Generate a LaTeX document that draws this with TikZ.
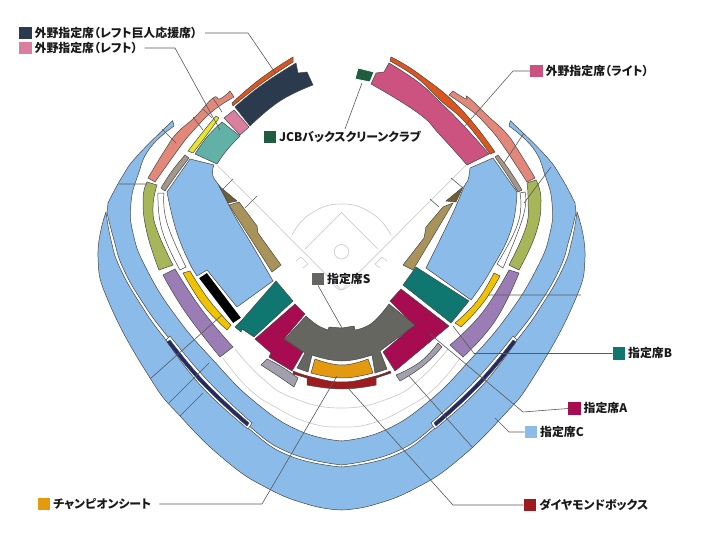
\documentclass[tikz,border=0pt]{standalone}
\usepackage{fontspec}
\setmainfont{Noto Sans CJK JP}[RawFeature=+palt]
\usetikzlibrary{positioning}
\definecolor{seatC}{HTML}{8ABBE9}
\definecolor{seatB}{HTML}{107670}
\definecolor{seatA}{HTML}{A80C50}
\definecolor{seatS}{HTML}{666660}
\definecolor{champion}{HTML}{E39A0E}
\definecolor{diamondbox}{HTML}{9E1B20}
\definecolor{giants}{HTML}{2B3A4C}
\definecolor{leftpink}{HTML}{DB7FA1}
\definecolor{rightpink}{HTML}{CC5380}
\definecolor{jcbclub}{HTML}{1F5C40}
\definecolor{salmon}{HTML}{E2887B}
\definecolor{rust}{HTML}{D9561F}
\definecolor{mint}{HTML}{62B1A7}
\definecolor{lemon}{HTML}{E6E62E}
\definecolor{taupe}{HTML}{A39889}
\definecolor{olive}{HTML}{A8B65A}
\definecolor{lilac}{HTML}{9A7DB5}
\definecolor{gold}{HTML}{F0C300}
\definecolor{sand}{HTML}{A8935A}
\definecolor{bark}{HTML}{6E5F35}
\definecolor{steel}{HTML}{A3A0AD}
\definecolor{navybar}{HTML}{1F2A66}
\newcommand{\seat}[3]{\filldraw[seatline,fill=#1] plot[rnd] coordinates {#2} -- plot[rnd] coordinates {#3} -- cycle;}
\begin{document}
\begin{tikzpicture}[x=1pt,y=-1pt,
	rnd/.style={smooth,tension=0.8},
	seatline/.style={draw=black!72,line width=0.5pt},
	fieldline/.style={draw=black!20,line width=0.7pt},
	leader/.style={draw=black!65,line width=0.6pt},
	swatch/.style={inner sep=0pt,minimum size=12.5pt},
	lab/.style={inner sep=0pt,text=black!90,font=\bfseries\fontsize{11.9}{12}\selectfont},
	node distance=2.5pt]
	\useasboundingbox (0,0) rectangle (702,538);
	% field
	\draw[fieldline] (217,165) -- (341.5,290) -- (466,165);
	\draw[fieldline] plot[rnd] coordinates {(292,235) (310,214) (341.5,204) (373,214) (391,235)};
	\draw[fieldline] (305,249) -- (341.5,212.7) -- (378,249);
	\draw[fieldline] (341.5,251.7) circle (7.3);
	\draw[fieldline] (296,261) -- (301,257) -- (308,264) -- (303,268);
	\draw[fieldline] (387,261) -- (382,257) -- (375,264) -- (380,268);
	\draw[fieldline] plot[rnd] coordinates {(334,285) (341,290) (350,285)};
	\draw[fieldline] plot[rnd] coordinates {(235,349) (262,378) (293,398) (341.5,408) (390,398) (421,378) (448,349)};
	\draw[fieldline] plot[rnd] coordinates {(223,358) (248,388) (277,408) (310,423) (341.5,427) (373,423) (406,408) (435,388) (460,358)};
	% both wings of the blue rings
	\foreach \s/\o in {1/0,-1/683}{
		\begin{scope}[xshift=\o pt,xscale=\s]
			\fill[seatC] plot[rnd] coordinates {(342,510) (310,505) (267,488) (225,460) (180,416) (150,378) (110,305) (98,257) (106,212)} -- plot[rnd] coordinates {(106,212) (111,240) (120,268) (141,305) (166,340) (205,386) (248,428) (290,456) (342,467)} -- cycle;
			\draw[seatline] plot[rnd] coordinates {(342,510) (310,505) (267,488) (225,460) (180,416) (150,378) (110,305) (98,257) (106,212)} -- plot[rnd] coordinates {(106,212) (111,240) (120,268) (141,305) (166,340) (205,386) (248,428) (290,456) (342,467)};
			\fill[seatC] plot[rnd] coordinates {(342,465) (290,453) (248,425) (207,383) (168,337) (143,303) (123,268) (114,240) (107,213)} -- plot[rnd] coordinates {(108,203) (122,177) (138,155) (172.7,120.7)} -- plot[rnd] coordinates {(174,126) (150,148) (138,175) (131,203) (133,233) (146,268) (175,315) (213,360) (255,402) (300,431) (342,441)} -- cycle;
			\draw[seatline] plot[rnd] coordinates {(342,465) (290,453) (248,425) (207,383) (168,337) (143,303) (123,268) (114,240) (107,213)} -- plot[rnd] coordinates {(108,203) (122,177) (138,155) (172.7,120.7)} -- plot[rnd] coordinates {(174,126) (150,148) (138,175) (131,203) (133,233) (146,268) (175,315) (213,360) (255,402) (300,431) (342,441)};
			\seat{white}{(170,336) (208,381) (252,423)}{(248,429) (202,387) (166,340)}
			\seat{navybar}{(170,340) (205,382) (249,423)}{(247,426) (203,385) (167,342)}
		\end{scope}
	}
	% left side
	\seat{salmon}{(234,97) (218,107) (204,119) (192,132) (180,147) (155,182)}{(148,178) (165,150) (177,133) (195,117) (213,98) (220,99) (230,91)}
	\seat{rust}{(232,103) (260,79) (293,57)}{(293,62) (262,83) (233,106)}
	\filldraw[seatline,fill=giants] plot[rnd] coordinates {(235,107) (262,85) (296,63)} -- (298,73) -- (307,72) -- plot[rnd] coordinates {(313,85) (280,101) (250,126)} -- cycle;
	\filldraw[seatline,fill=leftpink] (224,118) -- (234,110) -- (249,127) -- (240,135) -- cycle;
	\filldraw[seatline,fill=mint] (222,122) -- (240,136) -- plot[rnd] coordinates {(240,136) (227,150) (217,164)} -- (195,154) -- plot[rnd] coordinates {(195,154) (207,137) (222,122)} -- cycle;
	\seat{lemon}{(216,116) (202,133) (188,151)}{(193,153) (206,136) (219,118)}
	\seat{taupe}{(185,155) (172,171) (161,188)}{(165,191) (177,174) (189,158)}
	\seat{olive}{(147,182) (143,200) (147,233) (159,270)}{(173,265) (157,230) (153,207) (157,185)}
	\seat{white}{(158,193) (162,230) (180,270)}{(186,267) (167,223) (164,193)}
	\filldraw[seatline,fill=seatC] plot[rnd] coordinates {(214,165) (213,176) (222,190) (233,213) (255,250) (273,281)} -- (237,307) -- (207,270) -- (197,276) -- plot[rnd] coordinates {(192,268) (177,233) (167,192)} -- (190,159) -- cycle;
	\filldraw[seatline,fill=sand] (229,205) -- (239,202) -- (257,226) -- (258,233) -- (281,265) -- (272,272) -- (247,233) -- cycle;
	\filldraw[seatline,fill=bark] (219,186) -- (237,201) -- (228,203) -- cycle;
	\seat{lilac}{(163,275) (186,313) (220,357)}{(233,347) (202,310) (175,269)}
	\seat{gold}{(183,273) (203,305) (227,330)}{(231,325) (209,300) (190,271)}
	\filldraw[draw=white,line width=1.3pt,fill=black] (198,278) -- (207,272) -- (242,318) -- (233,324) -- cycle;
	\filldraw[seatline,fill=seatB] (276,281) -- (293,301) -- (254,337) -- (242,329) -- (241,332) -- (235,327) -- (242,320) -- cycle;
	\filldraw[seatline,fill=seatA] (295,304) -- (305,314) -- (284,339) -- (303,352) -- (292,371) -- (269,357) -- (271,353) -- (255,339) -- cycle;
	\seat{steel}{(261,365) (278,376) (294,387)}{(298,378) (282,367) (267,359)}
	% right side
	\seat{salmon}{(449,95) (465,106) (480,118) (492,131) (504,147) (527,182)}{(535,178) (518,150) (506,133) (488,116) (468,97) (466,99) (453,91)}
	\seat{rust}{(391,57) (419,74) (460,108) (495,152)}{(490,154) (465,122) (440,100) (417,78) (390,61)}
	\filldraw[seatline,fill=rightpink] plot[rnd] coordinates {(389,63) (418,82) (440,102) (463,125) (489,154)} -- plot[rnd] coordinates {(467,165) (440,135) (418,113) (371,84)} -- (376,73) -- (384,72) -- cycle;
	\filldraw[draw=white,line width=0.8pt,fill=jcbclub] (358,68) -- (374,72) -- (370,82) -- (355,79) -- cycle;
	\seat{taupe}{(495,157) (506,173) (518,192)}{(522,190) (510,171) (498,155)}
	\seat{olive}{(527,183) (528,200) (526,227) (509,265)}{(519,270) (536,233) (541,200) (536,180)}
	\seat{white}{(520,193) (518,223) (497,264)}{(503,268) (523,217) (525,192)}
	\filldraw[seatline,fill=seatC] plot[rnd] coordinates {(470,168) (468,180) (464,187) (451,217) (426,268)} -- plot[rnd] coordinates {(471,300) (491,270) (511,230) (517,192)} -- (493,158) -- cycle;
	\filldraw[seatline,fill=sand] (453,203) -- (443,207) -- (426,227) -- (424,238) -- (403,265) -- (413,270) -- (431,240) -- cycle;
	\filldraw[seatline,fill=bark] (463,187) -- (446,201) -- (456,202) -- cycle;
	\seat{lilac}{(509,270) (482,313) (450,345)}{(463,357) (495,321) (519,273)}
	\seat{gold}{(494,273) (477,301) (455,323)}{(461,327) (483,303) (500,276)}
	\filldraw[seatline,fill=seatB] (416,267) -- (469,301) -- (451,323) -- (403,285) -- cycle;
	\filldraw[seatline,fill=seatA] (401,289) -- (449,326) -- (395,371) -- (383,352) -- (414,325) -- (390,301) -- cycle;
	\seat{steel}{(396,375) (420,362) (438,343)}{(442,347) (423,366) (400,381)}
	% home plate side
	\filldraw[seatline,fill=seatS] plot[rnd] coordinates {(306,316) (317,325) (328,330)} -- (329,327) -- (342,328) -- (354,326) -- plot[rnd] coordinates {(355,330) (372,323) (389,304)} -- (415,325) -- (380,351) -- (387,369) -- (375,373) -- plot[rnd] coordinates {(372,355) (342,361) (312,355)} -- (308,372) -- (297,368) -- (305,353) -- (285,339) -- cycle;
	\seat{champion}{(315,359) (342,365) (368,359)}{(373,373) (342,378) (311,373)}
	\filldraw[seatline,fill=diamondbox] plot[rnd] coordinates {(293,371) (312,377) (342,382) (372,377) (390,371)} -- (391,373) -- (376,378) -- plot[rnd] coordinates {(376,385) (342,389) (307,385)} -- (307,378) -- (293,374) -- cycle;
	% swatches and labels
	\node[swatch,fill=giants] (giantsbox) at (25.5,33) {};
	\node[lab,right=of giantsbox] (giantslab) {外野指定席（レフト巨人応援席）};
	\node[swatch,fill=leftpink] (leftbox) at (25.5,48) {};
	\node[lab,right=of leftbox] (leftlab) {外野指定席（レフト）};
	\node[swatch,fill=jcbclub] (jcbbox) at (270,137) {};
	\node[lab,right=of jcbbox] (jcblab) {JCBバックスクリーンクラブ};
	\node[swatch,fill=rightpink] (rightbox) at (536.5,71) {};
	\node[lab,right=of rightbox] (rightlab) {外野指定席（ライト）};
	\node[swatch,fill=seatS] (sbox) at (318,279) {};
	\node[lab,fill=white,right=of sbox] (slab) {指定席S};
	\node[swatch,fill=seatB] (bbox) at (619,353.5) {};
	\node[lab,right=of bbox] (blab) {指定席B};
	\node[swatch,fill=seatA] (abox) at (574.5,408.5) {};
	\node[lab,right=of abox] (alab) {指定席A};
	\node[swatch,fill=seatC] (cbox) at (531,432) {};
	\node[lab,right=of cbox] (clab) {指定席C};
	\node[swatch,fill=diamondbox] (dbox) at (530,505) {};
	\node[lab,right=of dbox] (dlab) {ダイヤモンドボックス};
	\node[swatch,fill=champion] (cpbox) at (44,504) {};
	\node[lab,right=of cpbox] (cplab) {チャンピオンシート};
	% leaders
	\coordinate (giantsbend) at (248,31);
	\coordinate (giantsend) at (276,74);
	\coordinate (leftbend) at (175,48);
	\coordinate (leftend) at (220,130);
	\coordinate (jcbend) at (345,129);
	\coordinate (jcbseat) at (362,83);
	\coordinate (rightbend) at (513,69);
	\coordinate (rightend) at (464,127);
	\coordinate (send) at (342,328);
	\coordinate (bbend) at (474,353);
	\coordinate (bend) at (453,326);
	\coordinate (abend) at (523,412);
	\coordinate (aend) at (430,334);
	\coordinate (cbend) at (509,432);
	\coordinate (cend) at (495,418);
	\coordinate (dbend) at (453,505);
	\coordinate (dend) at (347,387);
	\coordinate (cpbend) at (262,504);
	\coordinate (cpend) at (337,376);
	\draw[leader,shorten <=8pt] (giantslab.east) -- (giantslab.east -| giantsbend) -- (giantsend);
	\draw[leader,shorten <=7pt] (leftlab.east) -- (leftlab.east -| leftbend) -- (leftend);
	\draw[leader] (jcbend) -- (jcbseat);
	\draw[leader] (rightbox.west) -- (rightbox.west -| rightbend) -- (rightend);
	\draw[leader] (sbox.south) -- (send);
	\draw[leader] (bbox.west) -- (bbox.west -| bbend) -- (bend);
	\draw[leader] (abox.west) -- (abend) -- (aend);
	\draw[leader] (cbox.west) -- (cbox.west -| cbend) -- (cend);
	\draw[leader] (dbox.west) -- (dbox.west -| dbend) -- (dend);
	\draw[leader,shorten <=8pt] (cplab.east) -- (cplab.east -| cpbend) -- (cpend);
	% thin dividers across the seats
	\draw[leader] (193,117) -- (203,130) (203,109) -- (212,118) (213,98) -- (222,112) (162,129) -- (176,143) (119,184) -- (147,184) (233,179) -- (223,189) (257,196) -- (245,208) (451,178) -- (463,188) (430,199) -- (439,207) (524,133) -- (504,163) (551,167) -- (524,203) (488,295) -- (581,295) (222,315) -- (150,379) (209,363) -- (169,403) (203,393) -- (180,416) (409,376) -- (473,448);
\end{tikzpicture}
\end{document}
